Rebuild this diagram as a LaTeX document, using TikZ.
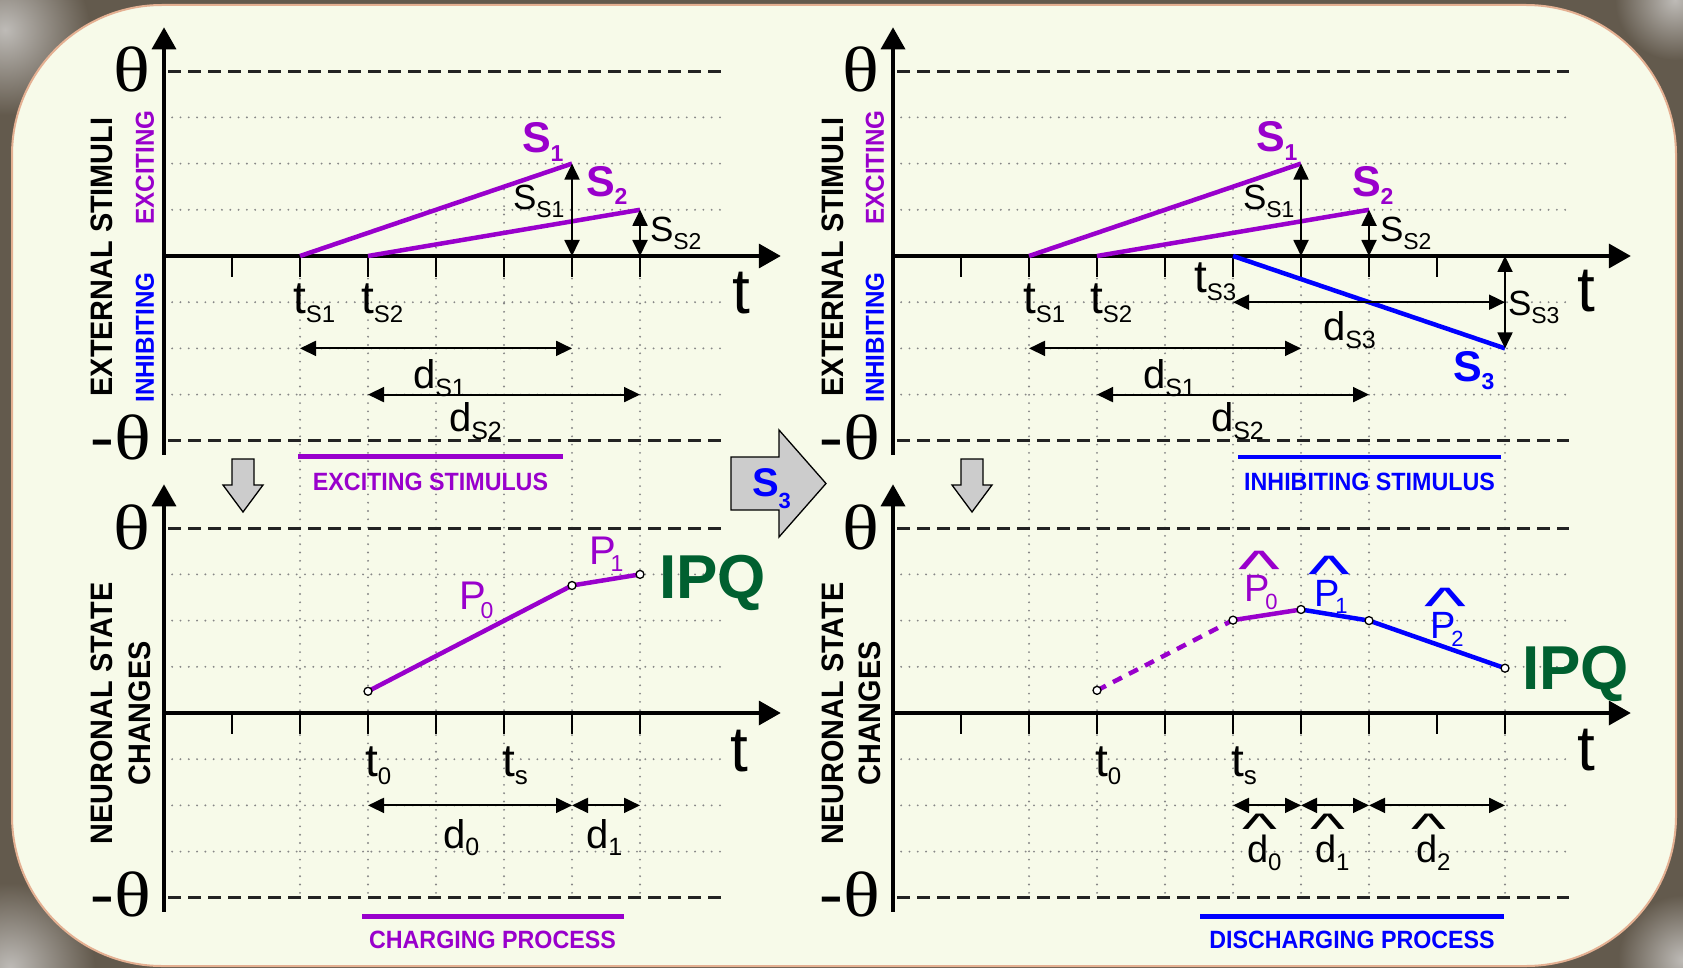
\documentclass[tikz,border=0pt]{standalone}
\usepackage{fontspec}
\setmainfont{Liberation Sans}
\newfontfamily\thfont{Liberation Serif}
\usetikzlibrary{arrows.meta}
\definecolor{outerc}{RGB}{99,90,77}
\definecolor{texc}{RGB}{190,187,183}
\definecolor{cardc}{RGB}{247,250,233}
\definecolor{edgec}{RGB}{228,176,146}
\definecolor{purpC}{RGB}{153,0,204}
\definecolor{blueC}{RGB}{0,0,255}
\definecolor{greenC}{RGB}{0,96,48}
\definecolor{dashc}{RGB}{35,35,35}
\definecolor{gridc}{RGB}{135,135,135}
\definecolor{arrgray}{RGB}{204,204,204}
\newcommand\fs[1]{\fontsize{#1}{#1}\selectfont}
\newcommand\lab[5]{{\fs{#3}#1}{\fs{#4}\raisebox{-#5pt}{#2}}}
\newsavebox\hatbox
\newlength\hatw
\newcommand\hatover[2]{\sbox\hatbox{#1}\setlength\hatw{\wd\hatbox}\rlap{\hbox to\hatw{\hss\kern0.2\hatw\raisebox{#2}{\resizebox{1.65\hatw}{0.85\hatw}{\raisebox{-0.30em}[0.42em][0pt]{\textasciicircum}}}\hss}}\usebox\hatbox}
\newcommand\thglyph{{\thfont\fs{64}\scalebox{1.2}[1]{θ}}}
\newcommand\mnglyph{{\bfseries\fs{42}\raisebox{6pt}{\scalebox{1.7}[1]{-}}}}
\newcommand\panel[4]{%
  \foreach \yy in {3,2,1,-1,-2,-3} \draw[gridln] (0.12,\yy) -- (#2,\yy);
  \draw[dashln] (0.06,4) -- (#1,4);
  \draw[dashln] (0.06,-4) -- (#1,-4);
  \foreach \kk in {1,...,#4} \draw[tickln] (\kk,0) -- (\kk,-0.45);
  \draw[axisln] (0,-4.3) -- (0,4.95);
  \draw[axisln] (0,0) -- (#3,0);
}
\begin{document}
\begin{tikzpicture}[x=1pt,y=-1pt,
  dashln/.style={line width=2.7pt, dash pattern=on 13pt off 7pt, dashc},
  gridln/.style={line width=2.1pt, gridc, line cap=round, dash pattern=on 0pt off 8.3pt},
  tickln/.style={line width=2.6pt},
  axisln/.style={line width=3.6pt, -{Triangle[length=22pt,width=24pt]}},
  sline/.style={line width=4.5pt},
  dimarr/.style={line width=1.9pt, {Triangle[length=16pt,width=15pt]}-{Triangle[length=16pt,width=15pt]}},
  ptmark/.style={circle, draw=black, fill=white, line width=1.3pt, inner sep=0pt, minimum size=8pt},
  lbl/.style={inner sep=0pt, outer sep=0pt},
  grayarr/.style={fill=arrgray, draw=black, line width=1.3pt, line join=miter}]
\useasboundingbox (0,0) rectangle (1683,968);
\clip (0,0) rectangle (1683,968);
% background
\fill[outerc] (0,0) rectangle (1683,968);
\shade[inner color=texc, outer color=outerc] (5,30) circle (85);
\shade[inner color=texc, outer color=outerc] (1675,0) circle (60);
\shade[inner color=texc, outer color=outerc] (10,968) circle (85);
\shade[inner color=texc, outer color=outerc] (1683,960) circle (65);
\draw[fill=cardc, draw=edgec, line width=2pt, rounded corners=150pt] (12,5) rectangle (1676,966);
% vertical grid lines
\foreach \k in {2,...,7} \draw[gridln] ({164+68*\k},262) -- ({164+68*\k},898);
\foreach \k in {2,...,7,9} \draw[gridln] ({893+68*\k},262) -- ({893+68*\k},898);
% ---------------- top left
\begin{scope}[shift={(164,256)},x=68pt,y=46.2pt]
  \draw[gridln] (4,0) -- (4,1); \draw[gridln] (5,0) -- (5,1.5);
  \panel{8.2}{8.25}{9.07}{7}
  \coordinate (tlA) at (2,0); \coordinate (tlB) at (6,2);
  \coordinate (tlC) at (3,0); \coordinate (tlD) at (7,1);
  \coordinate (tlB0) at (6,0); \coordinate (tlD0) at (7,0);
  \coordinate (tlE) at (2,-2); \coordinate (tlF) at (6,-2);
  \coordinate (tlG) at (3,-3); \coordinate (tlH) at (7,-3);
  \draw[sline,purpC] (tlA) -- (tlB);
  \draw[sline,purpC] (tlC) -- (tlD);
  \draw[dimarr] (tlB0) -- (tlB);
  \draw[dimarr] (tlD0) -- (tlD);
  \draw[dimarr] (tlE) -- (tlF);
  \draw[dimarr] (tlG) -- (tlH);
\end{scope}
% ---------------- top right
\begin{scope}[shift={(893,256)},x=68pt,y=46.2pt]
  \draw[gridln] (4,0) -- (4,1); \draw[gridln] (5,0) -- (5,1.5);
  \panel{9.94}{10.0}{10.85}{9}
  \coordinate (trA) at (2,0); \coordinate (trB) at (6,2);
  \coordinate (trC) at (3,0); \coordinate (trD) at (7,1);
  \coordinate (trB0) at (6,0); \coordinate (trD0) at (7,0);
  \coordinate (trE) at (2,-2); \coordinate (trF) at (6,-2);
  \coordinate (trG) at (3,-3); \coordinate (trH) at (7,-3);
  \coordinate (trI) at (5,0); \coordinate (trJ) at (9,-2);
  \coordinate (trJ0) at (9,0); \coordinate (trK) at (5,-1); \coordinate (trL) at (9,-1);
  \draw[sline,purpC] (trA) -- (trB);
  \draw[sline,purpC] (trC) -- (trD);
  \draw[sline,blueC] (trI) -- (trJ);
  \draw[dimarr] (trB0) -- (trB);
  \draw[dimarr] (trD0) -- (trD);
  \draw[dimarr] (trJ0) -- (trJ);
  \draw[dimarr] (trK) -- (trL);
  \draw[dimarr] (trE) -- (trF);
  \draw[dimarr] (trG) -- (trH);
\end{scope}
% ---------------- bottom left
\begin{scope}[shift={(164,713)},x=68pt,y=46.2pt]
  \panel{8.2}{8.25}{9.07}{7}
  \coordinate (blE) at (3,-2); \coordinate (blF) at (6,-2); \coordinate (blG) at (7,-2);
  \coordinate (blq0) at (3,0.47); \coordinate (blq1) at (6,2.76); \coordinate (blq2) at (7,3);
  \draw[sline,purpC] (blq0) -- (blq1) -- (blq2);
  \node[ptmark] (blp0) at (blq0) {};
  \node[ptmark] (blp1) at (blq1) {};
  \node[ptmark] (blp2) at (blq2) {};
  \draw[dimarr] (blE) -- (blF);
  \draw[dimarr] (blF) -- (blG);
\end{scope}
% ---------------- bottom right
\begin{scope}[shift={(893,713)},x=68pt,y=46.2pt]
  \panel{9.94}{10.0}{10.85}{9}
  \coordinate (brE) at (5,-2); \coordinate (brF) at (6,-2); \coordinate (brG) at (7,-2); \coordinate (brH) at (9,-2);
  \coordinate (brq0) at (3,0.49); \coordinate (brq1) at (5,2.01); \coordinate (brq2) at (6,2.24);
  \coordinate (brq3) at (7,2); \coordinate (brq4) at (9,0.97);
  \draw[sline,purpC,dash pattern=on 10pt off 8pt] (brq0) -- (brq1);
  \draw[sline,purpC] (brq1) -- (brq2);
  \draw[sline,blueC] (brq2) -- (brq3) -- (brq4);
  \node[ptmark] (brp0) at (brq0) {}; \node[ptmark] (brp1) at (brq1) {};
  \node[ptmark] (brp2) at (brq2) {}; \node[ptmark] (brp3) at (brq3) {};
  \node[ptmark] (brp4) at (brq4) {};
  \draw[dimarr] (brE) -- (brF);
  \draw[dimarr] (brF) -- (brG);
  \draw[dimarr] (brG) -- (brH);
\end{scope}
% ---------------- theta labels
\node[lbl,anchor=base] (th1) at (132,92) {\thglyph};
\node[lbl,anchor=base east] (th2) at (151,459) {\mnglyph\thglyph};
\node[lbl,anchor=base] (th3) at (132,549) {\thglyph};
\node[lbl,anchor=base east] (th4) at (151,916) {\mnglyph\thglyph};
\node[lbl,anchor=base] (th5) at (861,92) {\thglyph};
\node[lbl,anchor=base east] (th6) at (880,459) {\mnglyph\thglyph};
\node[lbl,anchor=base] (th7) at (861,549) {\thglyph};
\node[lbl,anchor=base east] (th8) at (880,916) {\mnglyph\thglyph};
% ---------------- rotated axis titles
\node[lbl,rotate=90] (ext1) at (102,257) {\bfseries\fs{31}\scalebox{0.93}[1]{EXTERNAL STIMULI}};
\node[lbl,rotate=90,text=purpC] (exc1) at (145,167.5) {\bfseries\fs{26}\scalebox{0.93}[1]{EXCITING}};
\node[lbl,rotate=90,text=blueC] (inh1) at (145,337.5) {\bfseries\fs{26}\scalebox{0.93}[1]{INHIBITING}};
\node[lbl,rotate=90] (ext2) at (832.5,257) {\bfseries\fs{31}\scalebox{0.93}[1]{EXTERNAL STIMULI}};
\node[lbl,rotate=90,text=purpC] (exc2) at (875,167.5) {\bfseries\fs{26}\scalebox{0.93}[1]{EXCITING}};
\node[lbl,rotate=90,text=blueC] (inh2) at (875,337.5) {\bfseries\fs{26}\scalebox{0.93}[1]{INHIBITING}};
\node[lbl,rotate=90] (neu1) at (102,713.5) {\bfseries\fs{31}\scalebox{0.93}[1]{NEURONAL STATE}};
\node[lbl,rotate=90] (chg1) at (140,713.5) {\bfseries\fs{31}\scalebox{0.93}[1]{CHANGES}};
\node[lbl,rotate=90] (neu2) at (832.5,713.5) {\bfseries\fs{31}\scalebox{0.93}[1]{NEURONAL STATE}};
\node[lbl,rotate=90] (chg2) at (870,713.5) {\bfseries\fs{31}\scalebox{0.93}[1]{CHANGES}};
% ---------------- top left labels
\node[lbl,anchor=base west,text=purpC] (tlS1) at (522,153) {\bfseries\lab{S}{1}{43}{23}{9}};
\node[lbl,anchor=base west,text=purpC] (tlS2) at (586,197) {\bfseries\lab{S}{2}{43}{23}{8}};
\node[lbl,anchor=base west] (tlSs1) at (513,210) {\lab{S}{S1}{35}{23}{8}};
\node[lbl,anchor=base west] (tlSs2) at (650,242) {\lab{S}{S2}{35}{23}{8}};
\node[lbl,anchor=base west] (tlts1) at (293,313) {\lab{t}{S1}{46}{24}{9}};
\node[lbl,anchor=base west] (tlts2) at (361,313) {\lab{t}{S2}{46}{24}{9}};
\node[lbl,anchor=base west] (tlt) at (732,313) {\fs{64}t};
\node[lbl,anchor=base west] (tlds1) at (413,388) {\lab{d}{S1}{40}{25}{8}};
\node[lbl,anchor=base west] (tlds2) at (449,431) {\lab{d}{S2}{40}{25}{8}};
% ---------------- top right labels
\node[lbl,anchor=base west,text=purpC] (trS1) at (1256,152) {\bfseries\lab{S}{1}{43}{23}{9}};
\node[lbl,anchor=base west,text=purpC] (trS2) at (1352,197) {\bfseries\lab{S}{2}{43}{23}{8}};
\node[lbl,anchor=base west,text=blueC] (trS3) at (1453,381) {\bfseries\lab{S}{3}{43}{23}{8}};
\node[lbl,anchor=base west] (trSs1) at (1243,210) {\lab{S}{S1}{35}{23}{8}};
\node[lbl,anchor=base west] (trSs2) at (1380,242) {\lab{S}{S2}{35}{23}{8}};
\node[lbl,anchor=base west] (trSs3) at (1508,315) {\lab{S}{S3}{35}{23}{9}};
\node[lbl,anchor=base west] (trts1) at (1023,313) {\lab{t}{S1}{46}{24}{9}};
\node[lbl,anchor=base west] (trts2) at (1090,313) {\lab{t}{S2}{46}{24}{9}};
\node[lbl,anchor=base west] (trts3) at (1194,292) {\lab{t}{S3}{46}{24}{9}};
\node[lbl,anchor=base west] (trt) at (1577,311) {\fs{64}t};
\node[lbl,anchor=base west] (trds1) at (1143,388) {\lab{d}{S1}{40}{25}{8}};
\node[lbl,anchor=base west] (trds2) at (1211,431) {\lab{d}{S2}{40}{25}{8}};
\node[lbl,anchor=base west] (trds3) at (1323,340) {\lab{d}{S3}{40}{25}{8}};
% ---------------- bottom left labels
\node[lbl,anchor=base west,text=purpC] (blP0) at (459,609) {\lab{P\kern-5pt}{0}{40}{23}{9}};
\node[lbl,anchor=base west,text=purpC] (blP1) at (589,564) {\lab{P\kern-5pt}{1}{40}{23}{7}};
\node[lbl,anchor=base west,text=greenC] (blIPQ) at (659,598) {\bfseries\fs{62}IPQ};
\node[lbl,anchor=base west] (blt0) at (365,776) {\lab{t}{0}{46}{24}{8}};
\node[lbl,anchor=base west] (blts) at (502,776) {\lab{t}{s}{46}{26}{8}};
\node[lbl,anchor=base west] (bld0) at (443,848) {\lab{d}{0}{40}{25}{7}};
\node[lbl,anchor=base west] (bld1) at (586,848) {\lab{d}{1}{40}{25}{7}};
\node[lbl,anchor=base west] (blt) at (730,771) {\fs{64}t};
% ---------------- bottom right labels
\node[lbl,anchor=base west,text=purpC] (brP0) at (1244,601) {\fs{38}\hatover{P}{30pt}\kern-4pt{\fs{22}\raisebox{-8pt}{0}}};
\node[lbl,anchor=base west,text=blueC] (brP1) at (1314,606) {\fs{38}\hatover{P}{30pt}\kern-4pt{\fs{22}\raisebox{-7pt}{1}}};
\node[lbl,anchor=base west,text=blueC] (brP2) at (1430,638) {\fs{38}\hatover{P}{30pt}\kern-4pt{\fs{22}\raisebox{-8pt}{2}}};
\node[lbl,anchor=base west,text=greenC] (brIPQ) at (1522,689) {\bfseries\fs{62}IPQ};
\node[lbl,anchor=base west] (brt0) at (1095,776) {\lab{t}{0}{46}{24}{8}};
\node[lbl,anchor=base west] (brts) at (1231,776) {\lab{t}{s}{46}{26}{8}};
\node[lbl,anchor=base west] (brd0) at (1247,862) {\fs{38}\hatover{d}{31pt}{\fs{24}\raisebox{-8pt}{0}}};
\node[lbl,anchor=base west] (brd1) at (1315,862) {\fs{38}\hatover{d}{31pt}{\fs{24}\raisebox{-8pt}{1}}};
\node[lbl,anchor=base west] (brd2) at (1416,862) {\fs{38}\hatover{d}{31pt}{\fs{24}\raisebox{-8pt}{2}}};
\node[lbl,anchor=base west] (brt) at (1577,770) {\fs{64}t};
% ---------------- stimulus / process captions
\coordinate (c1a) at (298,456.7); \coordinate (c1b) at (563,456.7);
\draw[line width=4.5pt,purpC] (c1a) -- (c1b);
\node[lbl,text=purpC] (cap1) at (430.5,481.7) {\bfseries\fs{25}\scalebox{0.93}[1]{EXCITING STIMULUS}};
\coordinate (c2a) at (1238,456.8); \coordinate (c2b) at (1501,456.8);
\draw[line width=4.5pt,blueC] (c2a) -- (c2b);
\node[lbl,text=blueC] (cap2) at (1369.5,481.7) {\bfseries\fs{25}\scalebox{0.93}[1]{INHIBITING STIMULUS}};
\coordinate (c3a) at (362,916.4); \coordinate (c3b) at (623.5,916.4);
\draw[line width=4.5pt,purpC] (c3a) -- (c3b);
\node[lbl,text=purpC] (cap3) at (492.5,940) {\bfseries\fs{25}\scalebox{0.93}[1]{CHARGING PROCESS}};
\coordinate (c4a) at (1200,916.4); \coordinate (c4b) at (1504,916.4);
\draw[line width=4.5pt,blueC] (c4a) -- (c4b);
\node[lbl,text=blueC] (cap4) at (1352,940) {\bfseries\fs{25}\scalebox{0.93}[1]{DISCHARGING PROCESS}};
% ---------------- gray arrows
\draw[grayarr] (232,459) -- (254,459) -- (254,485) -- (263,485) -- (243,512) -- (223,485) -- (232,485) -- cycle;
\draw[grayarr] (961,459) -- (983,459) -- (983,485) -- (992,485) -- (972,512) -- (952,485) -- (961,485) -- cycle;
\draw[grayarr] (731,457) -- (779,457) -- (779,430) -- (826,483.5) -- (779,537) -- (779,510) -- (731,510) -- cycle;
\node[lbl,anchor=base west,text=blueC] (s3arr) at (752,496) {\bfseries\lab{S}{3}{40}{22}{12}};
\end{tikzpicture}
\end{document}
